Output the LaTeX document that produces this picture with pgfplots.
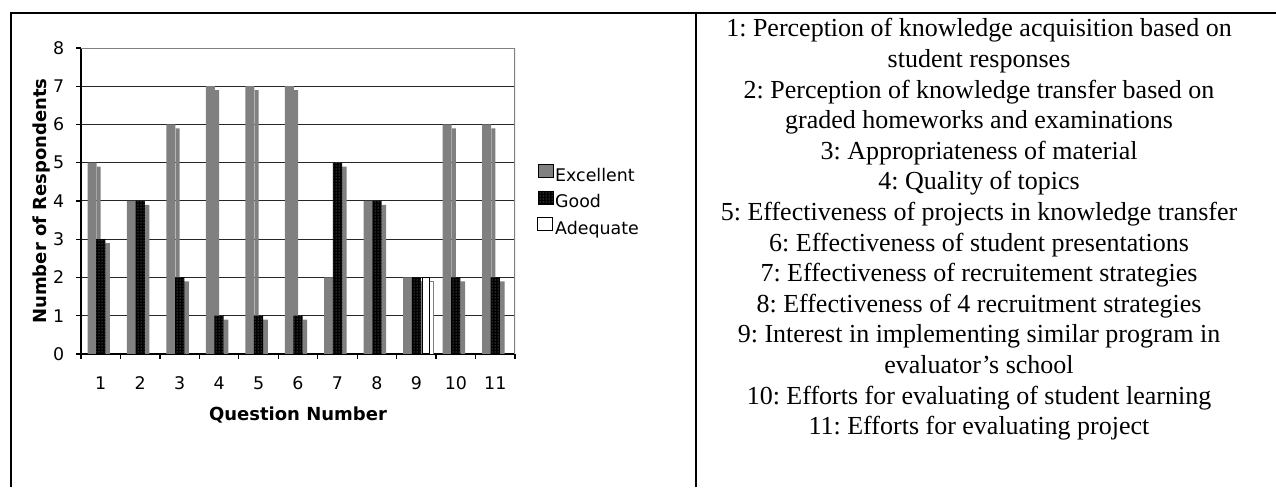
\documentclass[border=0pt]{standalone}
\usepackage{fontspec}
\setmainfont{Liberation Serif}
\newfontfamily\verd{DejaVu Sans}
\usepackage{pgfplots}
\pgfplotsset{compat=1.18}
\usepackage{pgfplotstable}
\usetikzlibrary{patterns}

\definecolor{xlgray}{RGB}{128,128,128}

% responses per question
\pgfplotstableread{
q exc good ade
1  5 3 0
2  4 4 0
3  6 2 0
4  7 1 0
5  7 1 0
6  7 1 0
7  2 5 0
8  4 4 0
9  2 2 2
10 6 2 0
11 6 2 0
}\survey

\pgfplotsset{legsq/.style={legend image code/.code={\draw[##1] (0pt,-2pt) rectangle (15pt,11pt);}}}

\begin{document}
\frenchspacing
\begin{tikzpicture}
\useasboundingbox (0pt,0pt) rectangle (1276pt,487pt);
\draw[line width=2pt] (11pt,0pt) -- (11pt,474pt) -- (1276pt,474pt);
\draw[line width=2pt] (696pt,0pt) -- (696pt,474pt);

\begin{axis}[
    at={(81pt,133pt)}, anchor=south west,
    scale only axis, width=434pt, height=306pt,
    xmin=0.5, xmax=11.5, ymin=0, ymax=8,
    axis x line*=bottom, axis y line*=left,
    axis line style={black, line width=1.2pt, -},
    tick align=outside, major tick length=5pt,
    tick style={black, line width=1.2pt},
    xtick={0.5,1.5,...,11.5}, xticklabels={},
    extra x ticks={1,...,11},
    extra x tick style={major tick length=0pt},
    ytick={0,...,8},
    ymajorgrids, grid style={black!85, line width=1pt},
    /pgf/number format/assume math mode=true,
    xticklabel style={font=\verd\fontsize{17.4}{20}\selectfont, anchor=base, inner sep=0pt, yshift=-36pt},
    yticklabel style={font=\verd\fontsize{17.4}{20}\selectfont, anchor=east, inner sep=0pt, xshift=-11.5pt},
    xlabel={Question Number},
    ylabel={Number of Respondents},
    xlabel style={at={(axis description cs:0.5,0)}, anchor=base, yshift=-67pt, font=\verd\bfseries\fontsize{18}{21}\selectfont},
    ylabel style={at={([xshift=-34.3pt]axis description cs:0,0.5)}, anchor=base, font=\verd\bfseries\fontsize{18}{21}\selectfont},
    legend style={at={(axis description cs:1.0507,0.621)}, anchor=north west,
        draw=none, fill=none, font=\verd\fontsize{17.4}{20}\selectfont,
        row sep=6pt, inner sep=0pt},
    legend cell align=left,
]
% side faces are drawn first, the fronts over them
\addplot[ybar, bar width=0.1, bar shift=-0.05, fill=xlgray, draw=none, forget plot]
    table[x=q, y expr=\thisrow{exc}-0.1]{\survey};
\addplot[ybar, bar width=0.228, bar shift=-0.221, fill=xlgray, draw=none, legsq]
    table[x=q, y=exc]{\survey};
\addplot[ybar, bar width=0.12, bar shift=0.174, fill=xlgray, draw=none, forget plot]
    table[x=q, y expr=\thisrow{good}-0.1]{\survey};
\addplot[ybar, bar width=0.234, bar shift=0, fill=black, draw=none,
    postaction={pattern=dots, pattern color=gray!75}, legsq]
    table[x=q, y=good]{\survey};
\addplot[ybar, bar width=0.1, bar shift=0.38, fill=white, draw=xlgray, line width=0.8pt,
    forget plot, y filter/.expression={y<0 ? nan : y}]
    table[x=q, y expr=\thisrow{ade}-0.1]{\survey};
\addplot[ybar, bar width=0.16, bar shift=0.245, fill=white, draw=black, line width=1pt,
    legsq, y filter/.expression={y==0 ? nan : y}]
    table[x=q, y=ade]{\survey};
\legend{Excellent,Good,Adequate}
\draw[xlgray, line width=1.2pt] (rel axis cs:0,1) -- (rel axis cs:1,1) -- (rel axis cs:1,0);
\end{axis}

\foreach \i/\txt in {
    0/{1: Perception of knowledge acquisition based on},
    1/{student responses},
    2/{2: Perception of knowledge transfer based on},
    3/{graded homeworks and examinations},
    4/{3: Appropriateness of material},
    5/{4: Quality of topics},
    6/{5: Effectiveness of projects in knowledge transfer},
    7/{6: Effectiveness of student presentations},
    8/{7: Effectiveness of recruitement strategies},
    9/{8: Effectiveness of 4 recruitment strategies},
    10/{9: Interest in implementing similar program in},
    11/{evaluator’s school},
    12/{10: Efforts for evaluating of student learning},
    13/{11: Efforts for evaluating project}}
  \node[anchor=base, inner sep=0pt, font=\fontsize{26}{30}\selectfont]
    at (979pt,{450pt-\i*30.6pt}) {\txt};
\end{tikzpicture}
\end{document}
